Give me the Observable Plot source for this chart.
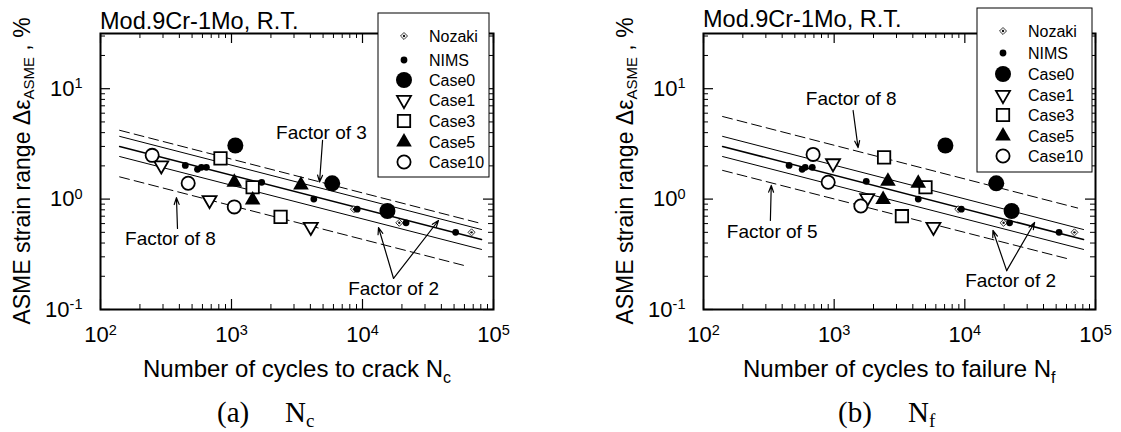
<!DOCTYPE html>
<html><head><meta charset="utf-8">
<script src="https://cdn.jsdelivr.net/npm/d3@7"></script>
<script src="https://cdn.jsdelivr.net/npm/@observablehq/plot@0.6"></script>
<style>
html,body{margin:0;padding:0;background:#fff;}
#wrap{display:flex;width:1121px;height:432px;overflow:hidden;}
svg text{font-family:"Liberation Sans",Arial,sans-serif;}
</style></head><body><div id="wrap"></div>
<script>
// ---------------- data: [N, strain range %] ----------------
// (a) number of cycles to crack Nc
const nozakiCrack = [[8600,0.81],[19100,0.61],[68000,0.50]];
const nimsCrack   = [[444,2.02],[550,1.86],[589,1.94],[643,1.94],[1700,1.42],[4250,1.00],[9100,0.81],[21500,0.61],[51400,0.50]];
const case0Crack  = [[1070,3.06],[5870,1.39],[15500,0.78]];
const case1Crack  = [[291,2.02],[680,0.98],[4030,0.56]];
const case3Crack  = [[824,2.34],[1450,1.28],[2370,0.69]];
const case5Crack  = [[1050,1.42],[1450,0.98],[3390,1.34]];
const case10Crack = [[248,2.49],[467,1.39],[1050,0.85]];
// (b) number of cycles to failure Nf
const nozakiFail  = [[8900,0.81],[19800,0.61],[69000,0.50]];
const nimsFail    = [[452,2.02],[569,1.86],[600,1.94],[680,1.94],[1760,1.45],[4400,1.00],[9400,0.81],[22000,0.61],[52600,0.50]];
const case0Fail   = [[7100,3.06],[17400,1.39],[22800,0.78]];
const case1Fail   = [[980,2.11],[1790,1.02],[5750,0.56]];
const case3Fail   = [[2410,2.39],[5000,1.28],[3300,0.70]];
const case5Fail   = [[2580,1.45],[2370,0.99],[4400,1.39]];
const case10Fail  = [[690,2.54],[900,1.42],[1600,0.865]];

// best-fit and scatter-band lines (end points)
const fitLine     = [[140,3.0],[81000,0.43]];
const upper2Line  = [[140,3.7],[81000,0.53]];
const lower2Line  = [[140,2.43],[81000,0.35]];
const upper3Crack = [[140,4.2],[81000,0.60]];
const lower8Crack = [[140,1.59],[60000,0.25]];
const upper8Fail  = [[140,5.6],[73000,0.83]];
const lower5Fail  = [[140,1.82],[60000,0.29]];

// annotations (data coordinates)
const notesCrack  = [{label:"Factor of 3",N:4860,e:4.0},{label:"Factor of 8",N:342,e:0.44},{label:"Factor of 2",N:17260,e:0.155}];
const arrowsCrack = [{N1:4955,e1:3.40,N2:4700,e2:1.43},{N1:387,e1:0.542,N2:380,e2:1.03},{N1:17260,e1:0.191,N2:13250,e2:0.553},{N1:17260,e1:0.191,N2:38000,e2:0.64}];
const notesFail   = [{label:"Factor of 8",N:1350,e:8.15},{label:"Factor of 5",N:336,e:0.50},{label:"Factor of 2",N:22400,e:0.183}];
const arrowsFail  = [{N1:1396,e1:6.35,N2:1524,e2:2.93},{N1:325,e1:0.64,N2:330,e2:1.33},{N1:20900,e1:0.225,N2:16400,e2:0.52},{N1:20900,e1:0.225,N2:34200,e2:0.614}];

// ticks
const xMajor = [100,1000,10000,100000];
const xMinor = [200,300,400,500,600,700,800,900,2000,3000,4000,5000,6000,7000,8000,9000,20000,30000,40000,50000,60000,70000,80000,90000];
const yMajor = [0.1,1,10];
const yMinor = [0.2,0.3,0.4,0.5,0.6,0.7,0.8,0.9,2,3,4,5,6,7,8,9,20,30];
const legendNames = ["Nozaki","NIMS","Case0","Case1","Case3","Case5","Case10"];

// ---------------- symbols ----------------
const sqrt3 = Math.sqrt(3);
const downTriangle = {draw(ctx,size){const y=-Math.sqrt(size/(sqrt3*3));ctx.moveTo(0,-2*y);ctx.lineTo(-sqrt3*y,y);ctx.lineTo(sqrt3*y,y);ctx.closePath();}};
const diamondSq = {draw(ctx,size){const h=Math.sqrt(size/2);ctx.moveTo(0,-h);ctx.lineTo(h,0);ctx.lineTo(0,h);ctx.lineTo(-h,0);ctx.closePath();}};
const styles = [
  {symbol:diamondSq, r:2.8, fill:"white", stroke:"#333", strokeWidth:1, inner:true},
  {symbol:"circle", r:3.4, fill:"black", stroke:"none", strokeWidth:0},
  {symbol:"circle", r:8, fill:"black", stroke:"none", strokeWidth:0},
  {symbol:downTriangle, r:5.2, fill:"white", stroke:"black", strokeWidth:1.8},
  {symbol:"square", r:7.0, fill:"white", stroke:"black", strokeWidth:1.8},
  {symbol:"triangle", r:5.8, fill:"black", stroke:"none", strokeWidth:0},
  {symbol:"circle", r:6.6, fill:"white", stroke:"black", strokeWidth:1.8}
];

function panel(o){
  const height=432, marginTop=33, marginBottom=123;
  const fw = o.width - o.marginLeft - o.marginRight, fh = height - marginTop - marginBottom;
  const X = d=>d[0], Y = d=>d[1];
  const marks = [];
  for (const l of o.lines) marks.push(Plot.line(l.data,{x:X,y:Y,stroke:"black",strokeWidth:l.w,strokeDasharray:l.dash}));
  o.series.forEach((s,i)=>{
    const st = styles[i];
    marks.push(Plot.dot(s,{x:X,y:Y,symbol:st.symbol,r:st.r,fill:st.fill,stroke:st.stroke,strokeWidth:st.strokeWidth}));
    if (st.inner) marks.push(Plot.dot(s,{x:X,y:Y,r:1.2,fill:"#111"}));
  });
  marks.push(
    Plot.tickX(xMajor,{x:d=>d,insetTop:fh-10,stroke:"black",strokeWidth:1.2}),
    Plot.tickX(xMajor,{x:d=>d,insetBottom:fh-10,stroke:"black",strokeWidth:1.2}),
    Plot.tickX(xMinor,{x:d=>d,insetTop:fh-5,stroke:"black",strokeWidth:1}),
    Plot.tickX(xMinor,{x:d=>d,insetBottom:fh-5,stroke:"black",strokeWidth:1}),
    Plot.tickY(yMajor,{y:d=>d,insetRight:fw-10,stroke:"black",strokeWidth:1.2}),
    Plot.tickY(yMajor,{y:d=>d,insetLeft:fw-10,stroke:"black",strokeWidth:1.2}),
    Plot.tickY(yMinor,{y:d=>d,insetRight:fw-5,stroke:"black",strokeWidth:1}),
    Plot.tickY(yMinor,{y:d=>d,insetLeft:fw-5,stroke:"black",strokeWidth:1}),
    Plot.frame({stroke:"black",strokeWidth:2}),
    Plot.arrow(o.arrows,{x1:"N1",y1:"e1",x2:"N2",y2:"e2",stroke:"black",strokeWidth:1.2,headLength:9,headAngle:40}),
    Plot.text(o.notes,{x:"N",y:"e",text:"label",fontSize:19,fill:"black"})
  );
  const fmt = d => "10^" + Math.round(Math.log10(d));
  const svg = Plot.plot({
    width:o.width, height, marginLeft:o.marginLeft, marginRight:o.marginRight, marginTop, marginBottom,
    style:{fontSize:"22px",background:"white",color:"black",overflow:"visible"},
    x:{type:"log",domain:[100,100000],ticks:xMajor,tickFormat:fmt,tickSize:0,tickPadding:17,label:null},
    y:{type:"log",domain:[0.1,31.6228],ticks:yMajor,tickFormat:fmt,tickSize:0,tickPadding:18,label:null},
    marks
  });
  const s = d3.select(svg);
  // superscripts in tick labels
  s.selectAll("text").each(function(){
    const m = /^10\^(-?\d+)$/.exec(this.textContent.trim());
    if (m){ const t=d3.select(this); t.text(null);
      t.append("tspan").text("10");
      t.append("tspan").attr("dy","-0.5em").attr("font-size","0.66em").text(m[1]); }
  });
  // title
  s.append("text").attr("x",o.marginLeft).attr("y",o.titleY).attr("text-anchor","start").attr("font-size",23.5).attr("fill","black").text("Mod.9Cr-1Mo, R.T.");
  // y label
  const yl = s.append("text").attr("transform",`translate(${o.marginLeft-70},171) rotate(-90)`).attr("text-anchor","middle").attr("font-size",23).attr("fill","black");
  yl.append("tspan").text("ASME strain range \u0394\u03b5");
  yl.append("tspan").attr("font-size",15).attr("dy",4).text("ASME");
  yl.append("tspan").attr("dy",-4).text(" , %");
  // x label
  const xl = s.append("text").attr("x",o.marginLeft+o.xLabDx).attr("y",377).attr("text-anchor","start").attr("font-size",24).attr("fill","black");
  xl.append("tspan").text(o.xLabel);
  xl.append("tspan").attr("font-size",16).attr("dy",6).text(o.xSub);
  // caption
  const cap = s.append("text").attr("y",422).attr("text-anchor","start").attr("font-size",29).attr("fill","black").style("font-family","'Liberation Serif','Times New Roman',serif");
  cap.append("tspan").attr("x",o.capX).text(o.capLetter);
  cap.append("tspan").attr("x",o.capNX).text("N");
  cap.append("tspan").attr("font-size",19).attr("dy",5).text(o.xSub);
  // legend
  const L = o.legend;
  s.append("rect").attr("x",L.x).attr("y",L.y).attr("width",L.w).attr("height",L.h).attr("fill","white").attr("stroke","black").attr("stroke-width",1);
  legendNames.forEach((name,i)=>{
    const st = styles[i], yy = L.rows[i];
    const type = typeof st.symbol === "string" ? ({circle:d3.symbolCircle,square:d3.symbolSquare,triangle:d3.symbolTriangle})[st.symbol] : st.symbol;
    s.append("path").attr("transform",`translate(${L.sx},${yy})`).attr("d",d3.symbol(type,Math.PI*st.r*st.r)())
      .attr("fill",st.fill).attr("stroke",st.stroke).attr("stroke-width",st.strokeWidth);
    if (st.inner) s.append("circle").attr("cx",L.sx).attr("cy",yy).attr("r",1.2).attr("fill","#111");
    s.append("text").attr("x",L.tx).attr("y",yy).attr("dy","0.35em").attr("text-anchor","start").attr("font-size",16).attr("fill","black").text(name);
  });
  return svg;
}

const wrap = document.getElementById("wrap");
wrap.appendChild(panel({
  width:560, marginLeft:100, marginRight:67, titleY:29,
  series:[nozakiCrack,nimsCrack,case0Crack,case1Crack,case3Crack,case5Crack,case10Crack],
  lines:[{data:upper3Crack,w:1,dash:"10,5"},{data:upper2Line,w:1},{data:fitLine,w:1.5},{data:lower2Line,w:1},{data:lower8Crack,w:1,dash:"10,5"}],
  notes:notesCrack, arrows:arrowsCrack,
  xLabel:"Number of cycles to crack N", xSub:"c", xLabDx:43,
  capLetter:"(a)", capX:217, capNX:285,
  legend:{x:378,y:13,w:111,h:164,sx:404,tx:429,rows:[36,60,80,100,121,142,162]}
}));
wrap.appendChild(panel({
  width:561, marginLeft:143, marginRight:26, titleY:27,
  series:[nozakiFail,nimsFail,case0Fail,case1Fail,case3Fail,case5Fail,case10Fail],
  lines:[{data:upper8Fail,w:1,dash:"10,5"},{data:upper2Line,w:1},{data:fitLine,w:1.5},{data:lower2Line,w:1},{data:lower5Fail,w:1,dash:"10,5"}],
  notes:notesFail, arrows:arrowsFail,
  xLabel:"Number of cycles to failure N", xSub:"f", xLabDx:40,
  capLetter:"(b)", capX:278, capNX:348,
  legend:{x:417,y:8,w:115,h:164,sx:443,tx:468,rows:[31,53,74,95,115,136,156]}
}));
</script></body></html>
